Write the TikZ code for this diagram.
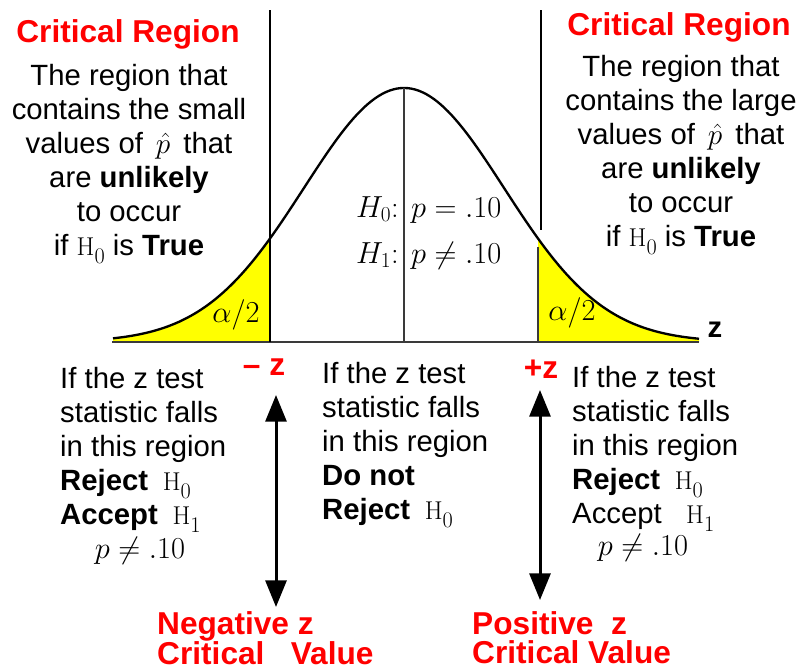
\RequirePackage{fix-cm}
\documentclass[tikz,border=0pt]{standalone}
\usepackage{fontspec}
\newfontfamily\arialfont{Liberation Sans}
\usetikzlibrary{arrows.meta}
\definecolor{Crit}{HTML}{FF0000}
\definecolor{Tail}{HTML}{FFFF00}
\definecolor{Axis}{HTML}{3A3A3A}
\newcommand{\Hs}[1]{{\rmfamily\fontsize{22}{29}\selectfont H\raisebox{-.3em}{\fontsize{19}{29}\selectfont#1}}}

\begin{document}
\begin{tikzpicture}[x=0.03cm,y=-0.03cm,>={Triangle[width=0.63cm,length=0.8cm]},
    txt/.style={font=\arialfont\fontsize{25}{29}\selectfont,inner sep=0pt},
    crit/.style={font=\arialfont\bfseries\fontsize{27}{29}\selectfont,text=Crit,inner sep=0pt},
    mth/.style={font=\fontsize{26}{30}\selectfont,inner sep=0pt}]
  \useasboundingbox (0,0) rectangle (799,667);
  \fill[Tail] (113,342) -- plot[domain=113:270,samples=60] (\x,{342-254*exp(-0.5*((\x-404)/100)^2)}) -- (270,342) -- cycle;
  \fill[Tail] (538,342) -- plot[domain=538:699,samples=60] (\x,{342-254*exp(-0.5*((\x-404)/100)^2)}) -- (699,342) -- cycle;
  \draw[line width=.07cm] plot[domain=113:699,samples=160] (\x,{342-254*exp(-0.5*((\x-404)/100)^2)});
  \draw[Axis,line width=.05cm] (112,342) -- (699,342);
  \draw[line width=.07cm] (270,10) -- (270,342);\draw[line width=.07cm] (541,10) -- (541,230);
  \draw[Axis,line width=.05cm] (404,88) -- (404,342);\draw[Axis,line width=.05cm] (538,247) -- (538,342);
  \node[crit,anchor=base] (crl) at (128,42) {Critical Region};
  \node[crit,anchor=base] (crr) at (679,35) {Critical Region};
  \node[txt,align=center,anchor=north] (dl) at (129,64) {The region that\\contains the small\\values of \,$\hat{p}$\, that\\are \textbf{unlikely}\\to occur\\if \Hs{0} is \textbf{True}};
  \node[txt,align=center,anchor=north] (dr) at (681,55) {The region that\\contains the large\\values of \,$\hat{p}$\, that\\are \textbf{unlikely}\\to occur\\if \Hs{0} is \textbf{True}};
  \node[mth,anchor=base] (al) at (236,322) {$\alpha/2$};
  \node[mth,anchor=base] (ar) at (572,320) {$\alpha/2$};
  \node[txt,anchor=base] (zax) at (715,337) {\bfseries z};
  \node[mth,anchor=base east] (h0) at (399,217) {$H_0\colon$};\node[mth,anchor=base west] (h0v) at (411,217) {$p=.10$};
  \node[mth,anchor=base east] (h1) at (399,263) {$H_1\colon$};\node[mth,anchor=base west] (h1v) at (411,263) {$p\neq.10$};
  \node[crit,anchor=base] (mz) at (264,375) {– z};
  \node[crit,anchor=base] (pz) at (541,378) {+z};
  \node[txt,align=left,anchor=north west] (rl) at (60,367) {If the z test\\statistic falls\\in this region\\\textbf{Reject}\enspace\Hs{0}\\\textbf{Accept}\enspace\Hs{1}};
  \node[mth,anchor=base] (pl) at (140,558) {$p\neq.10$};
  \node[txt,align=left,anchor=north west] (mid) at (322,362) {If the z test\\statistic falls\\in this region\\\textbf{Do not}\\\textbf{Reject}\enspace\Hs{0}};
  \node[txt,align=left,anchor=north west] (rr) at (572,366) {If the z test\\statistic falls\\in this region\\\textbf{Reject}\enspace\Hs{0}\\Accept\ \ \ \Hs{1}};
  \node[mth,anchor=base] (pr) at (643,555) {$p\neq.10$};
  \coordinate (lt) at (276,395);\coordinate (lb) at (276,607);
  \coordinate (rt) at (540,390);\coordinate (rb) at (540,600);
  \draw[<->,line width=.09cm] (lt) -- (lb);\draw[<->,line width=.09cm] (rt) -- (rb);
  \node[crit,align=left,anchor=north west,font=\arialfont\bfseries\fontsize{27}{25}\selectfont] (nl) at (157,611) {Negative z\\Critical\ \ \ Value};
  \node[crit,align=left,anchor=north west,font=\arialfont\bfseries\fontsize{27}{25}\selectfont] (nr) at (472,611) {Positive\ \ z\\Critical Value};
\end{tikzpicture}
\end{document}
